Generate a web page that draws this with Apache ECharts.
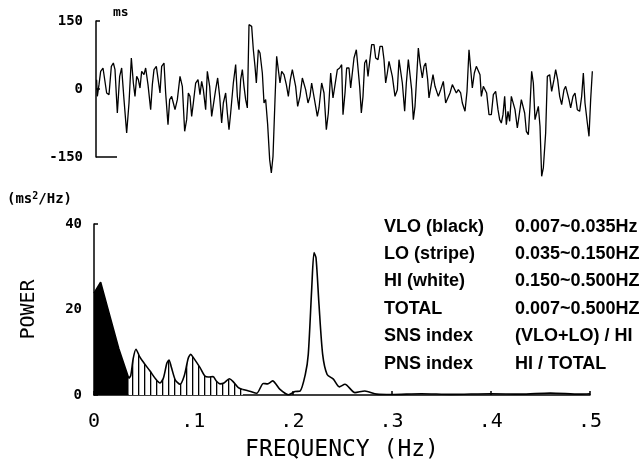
<!DOCTYPE html>
<html>
<head>
<meta charset="utf-8">
<script src="https://cdn.jsdelivr.net/npm/echarts@6/dist/echarts.min.js"></script>
<style>html,body{margin:0;padding:0;background:#fff}#c{width:644px;height:464px}</style>
</head>
<body>
<div id="c"></div>
<script>
// ---- Top panel: R-R interval fluctuation (ms) vs time (s) ----
const timeSec = [0.3,0.67,1.5,2.33,3.5,4.5,5.33,6.5,7.67,8.67,9.5,10.67,11.83,12.83,14,15.33,16.5,17.67,18.67,19.5,20.33,21.17,22,22.83,24,24.83,26,27.33,28.17,29,30.17,31.17,32,32.83,34,34.83,36,36.83,37.83,38.67,39.5,40.67,42,43.17,44.33,45.33,46.17,47,47.83,48.67,49.83,51,52,52.83,53.67,54.83,55.67,56.83,57.83,58.67,59.83,60.83,61.83,62.83,63.67,64.83,65.67,66.5,67.33,68.67,69.83,70.67,71.5,72.33,73.17,74,74.83,75.67,76.5,77.83,78.67,79.5,80.17,81.17,82,83.17,84,84.83,85.83,86.83,87.67,88.5,89.5,90.33,91.17,92,92.83,94,95.17,96.17,97.17,98.17,99,99.83,100.83,102,103.17,104,104.83,106,107,107.83,108.67,109.83,110.67,
111.5,112.83,114,115.17,116.17,117.33,118.5,119.5,120.67,121.83,122.83,123.5,124.5,125.33,126.5,127.33,128.17,129,130.17,131,131.83,132.67,133.5,134.33,135.17,136,136.83,137.83,139,139.83,141,142,143.17,144,144.83,145.67,146.5,147.33,148.17,149.5,150.67,151.5,152.5,153.17,154.33,155.17,156.17,157,157.83,158.67,159.5,160.33,161.17,162,163.17,164,164.83,165.83,166.5,167.5,168.5,169.5,170.33,171.17,172.33,173.67,174.83,175.83,177,178.17,179.17,180.17,181.17,182.33,183.17,184.5,185.5,186.5,187.33,188.17,189.17,190.17,191.17,192,192.67,193.67,194.5,195.33,196.5,197.67,198.67,199.83,201,201.83,202.67,203.5,204.33,205.17,206,206.83,207.67,208.5,209.5,210.67,211.5,212.67,213.5,214.33,215.17,216.17,217,217.83,218.67,219.5,220.33,221.17,222,222.83,223.67,224.83,225.67,226.83,227.83,229,229.83,230.83,231.83,232.83,234,234.83,235.67,236.5,237.33,238.5,239.5,240.67,241.83,242.83,243.67,244.5,245.67,246.5,247.33,248.17];
const rrMs = [20.6,-16.2,9.6,39,46.3,42.6,-8.8,-12.5,50,57.3,42.6,-52.9,27.9,46.3,-23.5,-97,-30.9,68.4,13.2,-16.2,27.9,20.6,2.2,39,31.6,46.3,9.6,-45.6,9.6,42.6,50,50,-8.8,50,57.3,-8.8,-78.6,-23.5,-16.2,-30.9,-45.6,-23.5,27.9,5.9,-93.3,-67.6,-8.8,-16.2,-60.3,-30.9,13.2,20.6,-12.5,16.9,-1.5,-45.6,39,5.9,-60.3,-60.3,-1.5,24.3,-16.2,-75,-30.9,-8.8,-52.9,-89.7,-52.9,13.2,53.7,-16.2,-45.6,20.6,42.6,5.9,-23.5,-41.9,141.9,138.2,86.7,50,13.2,86.7,79.4,35.3,-30.9,-23.5,-78.6,-155.8,-185.2,-148.5,-23.5,72,72,13.2,39,31.6,9.6,-16.2,20.6,42.6,39,5.9,-38.2,-16.2,24.3,27.9,-1.5,-30.9,-16.2,13.2,-8.8,-38.2,-60.3,
-41.9,13.2,-8.8,-89.7,-52.9,35.3,-19.8,-19.8,42.6,46.3,53.7,-56.6,-8.8,46.3,46.3,2.2,2.2,68.4,86.7,86.7,5.9,-52.9,-16.2,57.3,64.7,27.9,27.9,97.8,97.8,68.4,64.7,94.1,94.1,64.7,13.2,35.3,61,64.7,27.9,-16.2,-1.5,64.7,68.4,13.2,-49.2,13.2,64.7,64.7,-1.5,-67.6,-38.2,-38.2,90.4,57.3,24.3,50,57.3,20.6,-19.8,-23.5,31.6,5.9,2.2,-16.2,-1.5,16.9,-30.9,-34.5,-8.8,9.6,5.9,-8.8,-1.5,-8.8,-30.9,-49.2,-5.1,86.7,86.7,2.2,35.3,50,46.3,31.6,-16.2,5.9,9.6,-8.8,-56.6,-56.6,-12.5,-5.1,-45.6,-67.6,-75,-56.6,-16.2,-78.6,-49.2,-71.3,-16.2,-16.2,-45.6,-86,-60.3,-23.5,-19.8,-52.9,-93.3,-100.7,-38.2,39,13.2,-67.6,-52.9,-38.2,-82.3,-192.6,-174.2,-97,27.9,31.6,-5.1,20.6,42.6,20.6,-16.2,-34.5,-1.5,5.9,2.2,-23.5,-41.9,-16.2,-8.8,-45.6,-49.2,-16.2,35.3,-30.9,-75,-104.4,-23.5,39];
const topYTicks = [-150, 0, 150];

// ---- Bottom panel: power spectrum ----
const freqHz = [0,0.0067,0.015,0.025,0.035,0.037,0.0395,0.0423,0.046,0.0497,0.0565,0.062,0.0665,0.07,0.0735,0.0756,0.078,0.082,0.0867,0.091,0.095,0.0975,0.1,0.1069,0.1115,0.1153,0.12,0.1235,0.127,0.131,0.1364,0.14,0.1455,0.15,0.157,0.164,0.1707,0.175,0.18,0.1875,0.196,0.2026,0.2077,0.213,0.216,0.2195,0.2218,0.2238,0.2268,0.2305,0.235,0.2413,0.2473,0.253,0.2631,0.273,0.285,0.3,0.33,0.36,0.4,0.43,0.46,0.49,0.5];
const powerVal = [23.8,26.4,19.3,10.8,3.9,4.5,8.5,10.7,9.0,7.7,5.6,3.8,2.8,4.0,7.5,8.2,6.5,3.5,2.5,4.5,8.6,9.5,8.8,6.4,4.5,4.2,4.3,3.2,2.6,2.8,3.8,3.2,1.7,1.3,0.9,0.4,2.7,2.6,3.3,1.3,0.05,0.8,0.9,4.8,9.5,25,33.3,32.1,21.2,9.5,4.8,3.7,1.9,2.5,0.55,0.95,0.2,0.1,0.3,0.15,0.3,0.2,0.45,0.2,0.3];
const bandEdges = { vloStart: 0, vloEnd: 0.035, loEnd: 0.15, hiEnd: 0.5 };
const freqTicks = [0, 0.1, 0.2, 0.3, 0.4, 0.5];
const powerTicks = [0, 20, 40];

const legendNames = ['VLO (black)', 'LO (stripe)', 'HI (white)', 'TOTAL', 'SNS index', 'PNS index'];
const legendDefs = ['0.007~0.035Hz', '0.035~0.150HZ', '0.150~0.500HZ', '0.007~0.500HZ', '(VLO+LO) / HI', 'HI / TOTAL'];

// ---- build ----
const MONO = 'DejaVu Sans Mono';
const SANS = 'Liberation Sans';
const pts = freqHz.map((f, i) => [f, powerVal[i]]);
const vloPts = pts.filter(p => p[0] <= bandEdges.vloEnd);
const loPts = pts.filter(p => p[0] >= bandEdges.vloEnd && p[0] <= bandEdges.loEnd);
const hiPts = pts.filter(p => p[0] >= bandEdges.loEnd);

const pc = document.createElement('canvas');
pc.width = 6; pc.height = 8;
const pctx = pc.getContext('2d');
pctx.fillStyle = '#fff'; pctx.fillRect(0, 0, 6, 8);
pctx.fillStyle = '#000'; pctx.fillRect(0, 0, 1.3, 8);

const chart = echarts.init(document.getElementById('c'), null, { renderer: 'canvas' });
const lineBase = { type: 'line', symbol: 'none', lineStyle: { color: '#000', width: 1.6 }, itemStyle: { color: '#000' }, xAxisIndex: 1, yAxisIndex: 2, z: 3 };

chart.setOption({
  animation: false,
  backgroundColor: '#fff',
  title: [
    { text: 'ms', left: 113, top: 6, padding: 0, textStyle: { fontFamily: MONO, fontSize: 13, fontWeight: 'bold', color: '#000' } },
    { text: '(ms{s|2}/Hz)', left: 7, top: 191, padding: 0,
      textStyle: { fontFamily: MONO, fontSize: 14, fontWeight: 'bold', color: '#000', lineHeight: 16,
        rich: { s: { fontFamily: MONO, fontSize: 10, fontWeight: 'bold', color: '#000', lineHeight: 16, verticalAlign: 'top', padding: [0, 0, 6, 0] } } } },
    { text: legendNames.join('\n'), left: 384, top: 213, padding: 0,
      textStyle: { fontFamily: SANS, fontSize: 18, fontWeight: 'bold', color: '#000', lineHeight: 27.4 } },
    { text: legendDefs.join('\n'), left: 515, top: 213, padding: 0,
      textStyle: { fontFamily: SANS, fontSize: 18, fontWeight: 'bold', color: '#000', lineHeight: 27.4 } }
  ],
  grid: [
    { left: 96, right: 50, top: 21, bottom: 307 },
    { left: 94, right: 54, top: 224, bottom: 69 }
  ],
  xAxis: [
    { type: 'value', gridIndex: 0, min: 0, max: 249, show: false },
    { type: 'value', gridIndex: 1, min: 0, max: 0.5, interval: 0.1,
      axisLine: { lineStyle: { color: '#000', width: 1.5 } },
      axisTick: { inside: true, length: 4, lineStyle: { color: '#000', width: 1.5 } },
      splitLine: { show: false },
      axisLabel: { margin: 17, fontFamily: MONO, fontSize: 20, color: '#000',
        formatter: v => v === 0 ? '0' : v.toFixed(1).replace(/^0\./, '.') },
      name: 'FREQUENCY (Hz)', nameLocation: 'middle', nameGap: 44,
      nameTextStyle: { fontFamily: MONO, fontSize: 23, color: '#000' } }
  ],
  yAxis: [
    { type: 'value', gridIndex: 0, position: 'left', min: topYTicks[0], max: topYTicks[2], interval: 150,
      axisLine: { show: true, lineStyle: { color: '#000', width: 1.5 } },
      axisTick: { show: true, inside: true, length: 4, lineStyle: { color: '#000', width: 1.5 } },
      splitLine: { show: false },
      axisLabel: { margin: 13, fontFamily: MONO, fontSize: 14, fontWeight: 'bold', color: '#000' } },
    { type: 'value', gridIndex: 0, position: 'left', offset: 0, min: topYTicks[0], max: topYTicks[2],
      axisLine: { show: false }, axisLabel: { show: false }, splitLine: { show: false },
      axisTick: { show: true, inside: true, length: 21, customValues: [topYTicks[0]], lineStyle: { color: '#000', width: 1.5 } } },
    { type: 'value', gridIndex: 1, min: 0, max: 40, interval: 20,
      axisLine: { show: true, lineStyle: { color: '#000', width: 1.5 } },
      axisTick: { show: true, inside: true, length: 4, lineStyle: { color: '#000', width: 1.5 } },
      splitLine: { show: false },
      axisLabel: { margin: 12, fontFamily: MONO, fontSize: 14, fontWeight: 'bold', color: '#000' },
      name: 'POWER', nameLocation: 'middle', nameGap: 55,
      nameTextStyle: { fontFamily: MONO, fontSize: 20, color: '#000' } }
  ],
  series: [
    { type: 'line', xAxisIndex: 0, yAxisIndex: 0, symbol: 'none', clip: false,
      lineStyle: { color: '#000', width: 1.3 }, data: timeSec.map((t, i) => [t, rrMs[i]]) },
    Object.assign({}, lineBase, { name: 'VLO', data: vloPts, smooth: false, areaStyle: { color: '#000', opacity: 1 } }),
    Object.assign({}, lineBase, { name: 'LO', data: loPts, smooth: 0.25, areaStyle: { color: { image: pc, repeat: 'repeat' }, opacity: 1 } }),
    Object.assign({}, lineBase, { name: 'HI', data: hiPts, smooth: 0.25 })
  ]
});
</script>
</body>
</html>
